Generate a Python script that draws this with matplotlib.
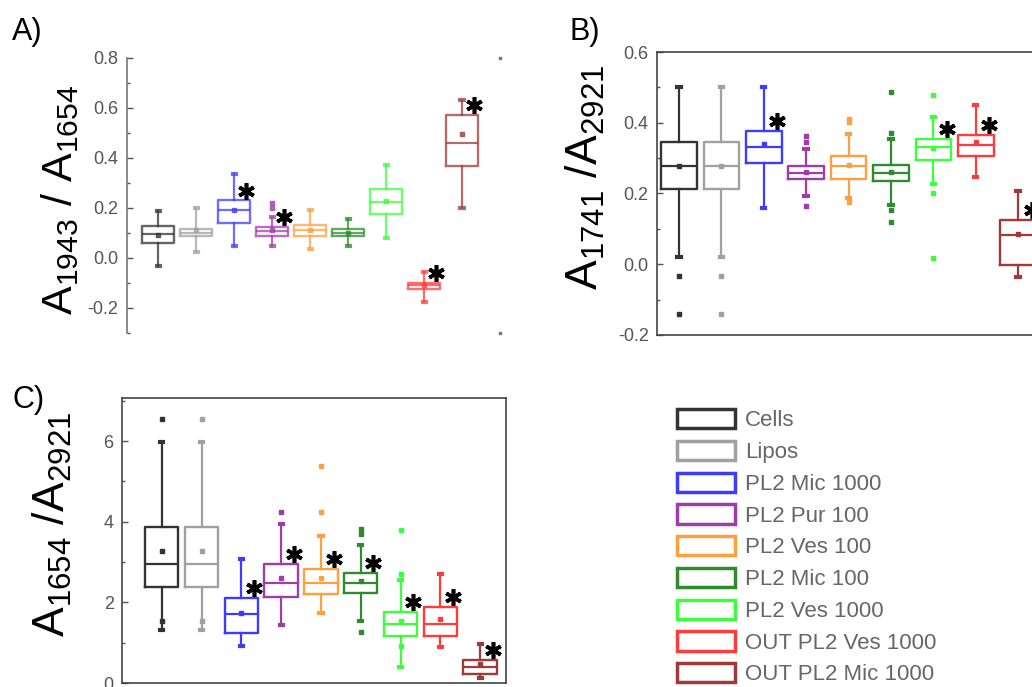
import numpy as np
import matplotlib
matplotlib.use("Agg")
import matplotlib.pyplot as plt
from matplotlib.patches import Patch
from matplotlib.ticker import MultipleLocator

plt.rcParams['font.family'] = ['Liberation Sans', 'DejaVu Sans']
plt.rcParams['mathtext.default'] = 'regular'

groups = ["Cells", "Lipos", "PL2 Mic 1000", "PL2 Pur 100", "PL2 Ves 100",
          "PL2 Mic 100", "PL2 Ves 1000", "OUT PL2 Ves 1000", "OUT PL2 Mic 1000"]
colors = ['#333333', '#a0a0a0', '#3c3cff', '#a03ca8', '#ffa040',
          '#2e8b2e', '#3cff3c', '#ff3c3c', '#9e3a3a']

# A) A1943 / A1654
a_q1 = [0.060, 0.087, 0.140, 0.087, 0.089, 0.089, 0.177, -0.123, 0.368]
a_med = [0.097, 0.100, 0.190, 0.107, 0.110, 0.101, 0.225, -0.109, 0.460]
a_q3 = [0.128, 0.116, 0.230, 0.124, 0.130, 0.115, 0.275, -0.100, 0.573]
a_lo = [-0.032, 0.024, 0.048, 0.047, 0.037, 0.047, 0.080, -0.176, 0.200]
a_hi = [0.187, 0.200, 0.337, 0.164, 0.193, 0.157, 0.370, -0.056, 0.633]
a_mean = [0.093, 0.110, 0.190, 0.110, 0.110, 0.100, 0.227, -0.110, 0.495]
a_out = [[], [], [], [0.221, 0.201], [], [], [], [], []]
a_sig = [0, 0, 1, 1, 0, 0, 0, 1, 1]

# B) A1741 / A2921
b_q1 = [0.212, 0.212, 0.285, 0.242, 0.242, 0.235, 0.294, 0.306, -0.002]
b_med = [0.279, 0.279, 0.332, 0.258, 0.277, 0.258, 0.332, 0.336, 0.084]
b_q3 = [0.346, 0.346, 0.376, 0.278, 0.306, 0.280, 0.355, 0.365, 0.125]
b_lo = [0.021, 0.021, 0.158, 0.192, 0.186, 0.167, 0.228, 0.247, -0.035]
b_hi = [0.501, 0.501, 0.501, 0.325, 0.369, 0.355, 0.416, 0.449, 0.207]
b_mean = [0.277, 0.277, 0.339, 0.261, 0.280, 0.260, 0.330, 0.346, 0.086]
b_out = [[-0.032, -0.142], [-0.032, -0.142], [], [0.362, 0.346, 0.165],
         [0.412, 0.402, 0.177], [0.370, 0.487, 0.153, 0.120],
         [0.478, 0.202, 0.018], [], []]
b_sig = [0, 0, 1, 0, 0, 0, 1, 1, 1]

# C) A1654 / A2921
c_q1 = [2.39, 2.39, 1.24, 2.13, 2.22, 2.24, 1.16, 1.16, 0.23]
c_med = [2.95, 2.95, 1.72, 2.49, 2.49, 2.47, 1.47, 1.47, 0.40]
c_q3 = [3.86, 3.86, 2.12, 2.96, 2.84, 2.72, 1.76, 1.88, 0.58]
c_lo = [1.31, 1.31, 0.91, 1.45, 1.74, 1.55, 0.39, 0.90, 0.12]
c_hi = [5.98, 5.98, 3.07, 3.94, 3.65, 3.43, 2.55, 2.71, 0.98]
c_mean = [3.28, 3.28, 1.74, 2.60, 2.60, 2.53, 1.55, 1.58, 0.48]
c_out = [[6.56, 1.54], [6.56, 1.54], [], [4.25], [4.25, 5.39],
         [3.82, 3.69, 1.27], [3.79, 2.71, 0.91], [], []]
c_sig = [0, 0, 1, 1, 1, 1, 1, 1, 1]


def draw_boxes(ax, q1, med, q3, lo, hi, mean, out, sig, alpha=1.0):
    for i in range(len(groups)):
        c = colors[i]
        st = dict(q1=q1[i], med=med[i], q3=q3[i], whislo=lo[i], whishi=hi[i],
                  mean=mean[i], fliers=out[i])
        ax.bxp([st], positions=[i + 1], widths=0.84, showmeans=True,
               capwidths=0.08,
               boxprops=dict(color=c, lw=1.7, alpha=alpha),
               medianprops=dict(color=c, lw=1.6, alpha=alpha),
               whiskerprops=dict(color=c, lw=1.6, alpha=alpha),
               capprops=dict(color=c, lw=3, alpha=alpha),
               meanprops=dict(marker='s', ms=3, mfc=c, mec=c, alpha=alpha),
               flierprops=dict(marker='s', ms=2.5, mfc=c, mec=c, alpha=alpha))
    # significance stars just above the upper quartile
    lo_y, hi_y = ax.get_ylim()
    off = 0.035 * (hi_y - lo_y)
    for i in range(len(groups)):
        if sig[i]:
            ax.plot(i + 1.32, q3[i] + off, marker=(6, 2, 0), ms=12, mew=2.6,
                    color='black', ls='none')


def style_axis(ax, major, minor):
    ax.yaxis.set_major_locator(MultipleLocator(major))
    ax.yaxis.set_minor_locator(MultipleLocator(minor))
    ax.tick_params(axis='y', which='both', direction='in', colors='#555555',
                   labelsize=13, pad=6)
    ax.tick_params(axis='y', which='major', length=4, width=1)
    ax.tick_params(axis='y', which='minor', length=2.5, width=1)
    ax.tick_params(axis='x', which='both', bottom=False, labelbottom=False)
    for s in ax.spines.values():
        s.set_color('#444444')
        s.set_linewidth(1.2)


fig = plt.figure(figsize=(10.32, 6.87), dpi=100)

# panel A
axA = fig.add_axes([0.123, 0.5153, 0.3615, 0.4003])
axA.set_ylim(-0.3, 0.8)
axA.set_xlim(0.18, 10)
draw_boxes(axA, a_q1, a_med, a_q3, a_lo, a_hi, a_mean, a_out, a_sig, alpha=0.75)
style_axis(axA, 0.2, 0.1)
for s in ['top', 'right', 'bottom']:
    axA.spines[s].set_visible(False)
axA.spines['left'].set_color('#777777')
axA.yaxis.set_major_formatter(plt.FormatStrFormatter('%.1f'))
axA.set_ylabel('A$_{1943}$ / A$_{1654}$', fontsize=31, va='center')
axA.yaxis.set_label_coords(-0.18, 0.484)
# small corner marks on the open right side
axA.plot([10, 10], [0.8, -0.3], ls='none', marker='s', ms=2, color='#777777',
         clip_on=False)

# panel B
axB = fig.add_axes([0.6366, 0.5124, 0.391, 0.4119])
axB.set_ylim(-0.2, 0.6)
axB.set_xlim(0.48, 10)
draw_boxes(axB, b_q1, b_med, b_q3, b_lo, b_hi, b_mean, b_out, b_sig)
style_axis(axB, 0.2, 0.1)
axB.yaxis.set_major_formatter(plt.FormatStrFormatter('%.1f'))
axB.set_ylabel('A$_{1741}$ /A$_{2921}$', fontsize=32, va='center')
axB.yaxis.set_label_coords(-0.178, 0.558)

# panel C
axC = fig.add_axes([0.1182, 0.0058, 0.3721, 0.4149])
axC.set_ylim(0, 7.07)
axC.set_xlim(0, 9.65)
draw_boxes(axC, c_q1, c_med, c_q3, c_lo, c_hi, c_mean, c_out, c_sig)
style_axis(axC, 2, 1)
axC.set_ylabel('A$_{1654}$ /A$_{2921}$', fontsize=32, va='center')
axC.yaxis.set_label_coords(-0.18, 0.558)

# panel letters
fig.text(12 / 1032, 1 - 40 / 687, 'A)', fontsize=22, va='baseline')
fig.text(570 / 1032, 1 - 40 / 687, 'B)', fontsize=22, va='baseline')
fig.text(12 / 1032, 1 - 408 / 687, 'C)', fontsize=22, va='baseline')

handles = [Patch(facecolor='white', edgecolor=c, lw=2.5, label=g)
           for g, c in zip(groups, colors)]
fig.legend(handles=handles, loc='upper left',
           bbox_to_anchor=(677 / 1032, 1 - 409 / 687), frameon=False,
           fontsize=16, handlelength=2.6, handleheight=0.95,
           handletextpad=0.45, labelspacing=0.43, borderpad=0,
           borderaxespad=0, labelcolor='#666666')

fig.savefig('out.png', dpi=100)
